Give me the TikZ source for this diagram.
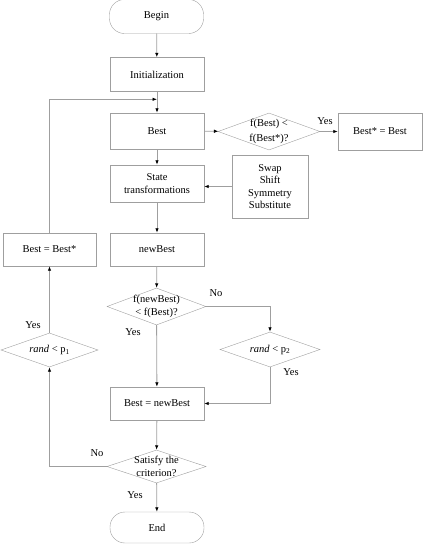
\documentclass[tikz,border=0pt]{standalone}
\usepackage{fontspec}
\setmainfont{Liberation Serif}
\usetikzlibrary{shapes.geometric,arrows.meta}

\tikzset{
  every node/.style={font=\fontsize{10.5}{12.6}\selectfont},
  box/.style={draw=gray!75,rectangle,minimum width=94pt,minimum height=34pt,inner sep=1pt,align=center},
  term/.style={box,rounded corners=15pt},
  decide/.style={draw=gray!75,diamond,aspect=2.7,inner sep=-6pt,minimum width=100pt,minimum height=36pt,align=center},
  line/.style={draw=gray!75,line width=0.8pt},
  arr/.style={line,-{Latex[black,length=4.5pt,width=3.5pt]}}
}

\begin{document}
\begin{tikzpicture}[x=1pt,y=-1pt]
\useasboundingbox (0,0) rectangle (436,544);

\node [term] (begin) at (156.5,16.5) {Begin};
\node [box] (init) at (157,74.5) {Initialization};
\node [box,minimum height=36pt] (best) at (157,131) {Best};
\node [decide,minimum width=102pt,minimum height=37pt] (cmp) at (269,131.5) {f(Best) <\\[3pt] f(Best*)?};
\node [box,minimum width=84pt,minimum height=37pt] (bstar) at (380,131.5) {Best* = Best};
\node [box,minimum height=37pt] (state) at (157,183.5) {State\\ transformations};
\node [box,minimum width=76pt,minimum height=63pt,inner sep=2pt] (ops) at (270,186.5) {Swap\\ Shift\\ Symmetry\\ Substitute};
\node [box,minimum height=33pt] (newb) at (157,249.5) {newBest};
\node [box,minimum width=93pt,minimum height=33pt] (reset) at (49.5,249.5) {Best = Best*};
\node [decide,minimum width=99pt,minimum height=37pt] (cmp2) at (156.5,306.5) {f(newBest)\\ < f(Best)?};
\node [decide,minimum width=100pt,minimum height=35pt] (ptwo) at (270,349.5) {\textit{rand} < p\textsubscript{2}};
\node [decide,minimum width=97pt,minimum height=34pt] (pone) at (49.5,350) {\textit{rand} < p\textsubscript{1}};
\node [box,minimum height=33pt] (upd) at (157,403.5) {Best = newBest};
\node [decide,minimum width=99pt,minimum height=33pt] (sat) at (156.5,466.5) {Satisfy the\\ criterion?};
\node [term,minimum height=31pt] (end) at (157,527.5) {End};

\coordinate (join) at (157,99.3);

% main column
\draw [arr] (begin) -- (init);
\draw [arr] (init) -- (best);
\draw [arr] (best) -- (cmp);
\draw [arr] (cmp) -- (bstar);
\draw [arr] (best) -- (state);
\draw [arr] (ops.west) -- (ops.west -| state.east);
\draw [arr] (state) -- (newb);
\draw [arr] (newb) -- (cmp2);
\draw [arr] (cmp2) -- (upd);
\draw [arr] (cmp2.east) -| (ptwo.north);
\draw [arr] (ptwo.south) |- (upd.east);
\draw [arr] (upd) -- (sat);
\draw [arr] (sat) -- (end);

% loop back
\draw [arr] (sat.west) -| (pone.south);
\draw [arr] (pone) -- (reset);
\draw [arr] (reset.north) |- (join);

% labels
\node (ycmp) at (325,121) {Yes};
\node (ncmp2) at (216,293) {No};
\node (ycmp2) at (133,332) {Yes};
\node (yptwo) at (291,372) {Yes};
\node (nsat) at (97,453) {No};
\node (ysat) at (135,495) {Yes};
\node (ypone) at (33,325) {Yes};

\end{tikzpicture}
\end{document}
